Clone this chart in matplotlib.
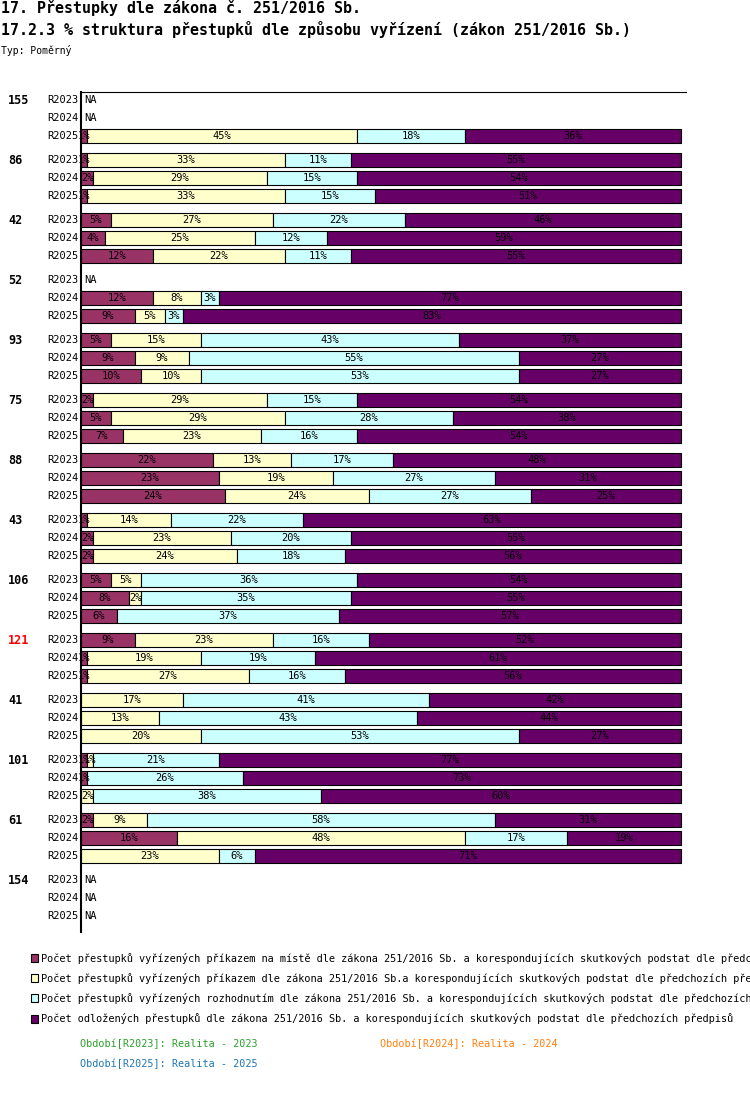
import matplotlib.pyplot as plt
from matplotlib.patches import Rectangle

plt.rcParams['font.family'] = ['DejaVu Sans Mono', 'DejaVu Sans']

groups = ["155", "86", "42", "52", "93", "75", "88", "43", "106", "121", "41", "101", "61", "154"]
periods = ["R2023", "R2024", "R2025"]

# % share per group and period (None = NA)
na_miste = [[None, None, 1], [1, 2, 1], [5, 4, 12], [None, 12, 9], [5, 9, 10], [2, 5, 7],
            [22, 23, 24], [1, 2, 2], [5, 8, 6], [9, 1, 1], [0, 0, 0], [1, 1, 0], [2, 16, 0],
            [None, None, None]]
prikazem = [[None, None, 45], [33, 29, 33], [27, 25, 22], [None, 8, 5], [15, 9, 10], [29, 29, 23],
            [13, 19, 24], [14, 23, 24], [5, 2, 0], [23, 19, 27], [17, 13, 20], [1, 0, 2], [9, 48, 23],
            [None, None, None]]
rozhodnutim = [[None, None, 18], [11, 15, 15], [22, 12, 11], [None, 3, 3], [43, 55, 53], [15, 28, 16],
               [17, 27, 27], [22, 20, 18], [36, 35, 37], [16, 19, 16], [41, 43, 53], [21, 26, 38],
               [58, 17, 6], [None, None, None]]
odlozene = [[None, None, 36], [55, 54, 51], [46, 59, 55], [None, 77, 83], [37, 27, 27], [54, 38, 54],
            [48, 31, 25], [63, 55, 56], [54, 55, 57], [52, 61, 56], [42, 44, 27], [77, 73, 60],
            [31, 19, 71], [None, None, None]]

series = [na_miste, prikazem, rozhodnutim, odlozene]
colors = ["#993366", "#FFFFCC", "#CCFFFF", "#660066"]
legend_texts = [
    "Počet přestupků vyřízených příkazem na místě dle zákona 251/2016 Sb. a korespondujících skutkových podstat dle předchozích předpisů",
    "Počet přestupků vyřízených příkazem dle zákona 251/2016 Sb.a korespondujících skutkových podstat dle předchozích předpisů",
    "Počet přestupků vyřízených rozhodnutím dle zákona 251/2016 Sb. a korespondujících skutkových podstat dle předchozích předpisů",
    "Počet odložených přestupků dle zákona 251/2016 Sb. a korespondujících skutkových podstat dle předchozích předpisů",
]
period_texts = ["Období[R2023]: Realita - 2023", "Období[R2024]: Realita - 2024", "Období[R2025]: Realita - 2025"]
period_colors = ["#2ca02c", "#ff7f0e", "#1f77b4"]

W, H = 750, 1102
fig = plt.figure(figsize=(W / 100, H / 100), dpi=100)
ax = fig.add_axes([81 / W, 1 - 932 / H, 605 / W, 840 / H])
ax.set_xlim(0, 605 / 6)
ax.set_ylim(832, -8)
ax.set_xticks([])
ax.set_yticks([])
ax.spines['right'].set_visible(False)
ax.spines['bottom'].set_visible(False)
ax.spines['left'].set_linewidth(1.5)
ax.spines['top'].set_linewidth(0.8)

for g, name in enumerate(groups):
    for r, per in enumerate(periods):
        y = g * 60 + r * 18
        ax.text(-0.35, y, per, ha='right', va='center', fontsize=7.5)
        if r == 0:
            ax.text(-73 / 6, y, name, ha='left', va='center', fontsize=8.5, fontweight='bold',
                    color='red' if name == "121" else 'black')
        if series[0][g][r] is None:
            ax.text(0.5, y, "NA", ha='left', va='center', fontsize=7.5)
            continue
        left = 0
        for s, col in zip(series, colors):
            v = s[g][r]
            if v == 0:
                continue
            bar = ax.barh(y, v, left=left, height=14, color=col, edgecolor='black', linewidth=0.8)
            t = ax.text(left + v / 2, y, f"{v}%", ha='center', va='center', fontsize=7.5)
            t.set_clip_path(bar.patches[0])
            left += v

# legend
for i, (txt, col) in enumerate(zip(legend_texts, colors)):
    yc = [958, 978, 998, 1019][i]
    fig.add_artist(Rectangle((31 / W, 1 - (yc + 4) / H), 7 / W, 8 / H, transform=fig.transFigure,
                             facecolor=col, edgecolor='black', linewidth=0.8))
    fig.text(41 / W, 1 - yc / H, txt, ha='left', va='center', fontsize=7.4)

for i, (txt, col) in enumerate(zip(period_texts, period_colors)):
    x = [80, 380, 80][i]
    yc = [1044, 1044, 1064][i]
    fig.text(x / W, 1 - yc / H, txt, ha='left', va='center', fontsize=7.3, color=col)

fig.text(1 / W, 1 - 8 / H, "17. Přestupky dle zákona č. 251/2016 Sb.", ha='left', va='center',
         fontsize=10.8, fontweight='bold')
fig.text(1 / W, 1 - 30 / H, "17.2.3 % struktura přestupků dle způsobu vyřízení (zákon 251/2016 Sb.)",
         ha='left', va='center', fontsize=10.8, fontweight='bold')
fig.text(1 / W, 1 - 50 / H, "Typ: Poměrný", ha='left', va='center', fontsize=7)

plt.savefig('out.png', dpi=100)
